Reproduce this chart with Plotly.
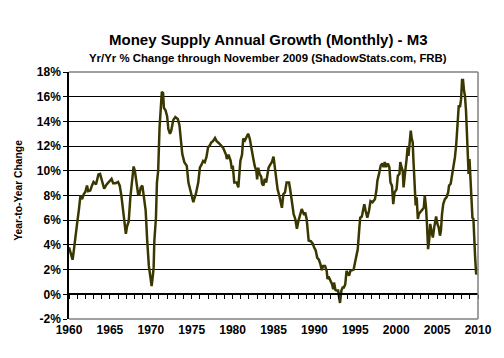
import plotly.graph_objects as go

years = [1960.0, 1960.2, 1960.44, 1960.6, 1960.8, 1961.03, 1961.2, 1961.4, 1961.6, 1961.8,
         1962.0, 1962.2, 1962.35, 1962.6, 1962.8, 1963.0, 1963.3, 1963.6, 1963.8, 1964.1,
         1964.3, 1964.6, 1964.9, 1965.2, 1965.4, 1965.7, 1966.0, 1966.2, 1966.4, 1966.6,
         1966.8, 1966.95, 1967.1, 1967.3, 1967.5, 1967.7, 1967.9, 1968.05, 1968.2, 1968.45,
         1968.6, 1968.77, 1968.97, 1969.17, 1969.37, 1969.56, 1969.76, 1969.96, 1970.1, 1970.25,
         1970.35, 1970.43, 1970.63, 1970.75, 1970.9, 1971.07, 1971.23, 1971.35, 1971.5, 1971.6,
         1971.8, 1972.0, 1972.14, 1972.34, 1972.5, 1972.74, 1973.0, 1973.3, 1973.5, 1973.7,
         1973.85, 1974.1, 1974.4, 1974.6, 1974.9, 1975.2, 1975.3, 1975.5, 1975.8, 1976.0,
         1976.2, 1976.4, 1976.6, 1976.8, 1977.0, 1977.2, 1977.4, 1977.6, 1977.85, 1978.05,
         1978.3, 1978.6, 1978.85, 1979.2, 1979.3, 1979.5, 1979.76, 1979.88, 1980.04, 1980.2,
         1980.5, 1980.7, 1980.83, 1980.95, 1981.15, 1981.3, 1981.5, 1981.7, 1981.9, 1982.1,
         1982.3, 1982.5, 1982.7, 1982.9, 1983.0, 1983.13, 1983.3, 1983.5, 1983.6, 1983.77,
         1983.93, 1984.1, 1984.24, 1984.4, 1984.6, 1984.8, 1985.0, 1985.12, 1985.3, 1985.5,
         1985.7, 1985.87, 1986.03, 1986.2, 1986.4, 1986.6, 1986.9, 1987.06, 1987.26, 1987.46,
         1987.66, 1987.86, 1988.05, 1988.25, 1988.45, 1988.7, 1988.9, 1989.05, 1989.16, 1989.3,
         1989.56, 1989.8, 1989.96, 1990.16, 1990.35, 1990.55, 1990.75, 1990.9, 1991.07, 1991.3,
         1991.5, 1991.6, 1991.8, 1992.0, 1992.17, 1992.3, 1992.4, 1992.57, 1992.7, 1992.9,
         1993.0, 1993.13, 1993.3, 1993.45, 1993.6, 1993.77, 1993.93, 1994.1, 1994.24, 1994.4,
         1994.6, 1994.8, 1994.96, 1995.12, 1995.3, 1995.47, 1995.6, 1995.8, 1996.0, 1996.1,
         1996.27, 1996.47, 1996.67, 1996.86, 1997.1, 1997.4, 1997.58, 1997.7, 1997.9, 1998.1,
         1998.3, 1998.45, 1998.6, 1998.77, 1998.97, 1999.16, 1999.3, 1999.48, 1999.64, 1999.8,
         2000.04, 2000.2, 2000.4, 2000.5, 2000.67, 2000.8, 2000.9, 2001.0, 2001.15, 2001.27,
         2001.4, 2001.5, 2001.66, 2001.78, 2001.9, 2002.02, 2002.1, 2002.18, 2002.26, 2002.38,
         2002.5, 2002.65, 2002.77, 2002.97, 2003.17, 2003.37, 2003.49, 2003.65, 2003.77, 2003.9,
         2004.04, 2004.16, 2004.32, 2004.48, 2004.64, 2004.76, 2004.88, 2005.04, 2005.2, 2005.35,
         2005.47, 2005.6, 2005.75, 2005.95, 2006.15, 2006.35, 2006.46, 2006.66, 2006.86, 2007.02,
         2007.18, 2007.34, 2007.46, 2007.57, 2007.65, 2007.8, 2007.93, 2008.05, 2008.17, 2008.29,
         2008.4, 2008.53, 2008.65, 2008.77, 2008.85, 2008.96, 2009.08, 2009.2, 2009.32, 2009.44,
         2009.52, 2009.64, 2009.76, 2009.83]

m3_growth = [3.8, 3.3, 2.8, 3.6, 4.9, 5.95, 6.8, 8.0, 7.7, 8.1,
             8.3, 8.8, 8.35, 8.4, 8.8, 9.1, 8.9, 9.7, 9.75, 8.95,
             8.55, 8.9, 9.1, 9.35, 9.0, 9.0, 9.1, 8.8, 8.0, 6.8,
             5.7, 4.9, 5.5, 5.9, 7.85, 9.35, 10.35, 10.0, 9.1, 8.1,
             8.1, 8.65, 8.8, 7.85, 6.8, 4.35, 2.3, 1.35, 0.67, 1.5,
             2.2, 4.3, 6.2, 9.05, 10.0, 13.5, 14.9, 16.4, 16.3, 15.1,
             14.9, 14.4, 13.4, 13.0, 13.25, 14.1, 14.35, 14.2, 13.7, 12.3,
             11.35, 10.7, 10.4, 9.05, 8.25, 7.45, 7.7, 8.1, 9.05, 10.25,
             10.5, 10.8, 10.7, 11.1, 11.9, 12.05, 12.3, 12.4, 12.65, 12.4,
             12.25, 12.05, 11.85, 11.3, 10.95, 11.3, 10.8, 10.25, 10.3, 9.05,
             9.05, 8.65, 9.5, 10.8, 11.3, 12.6, 12.45, 12.75, 13.0, 12.6,
             11.65, 11.1, 10.4, 10.0, 9.3, 10.25, 9.75, 9.5, 8.95, 8.8,
             9.35, 9.05, 9.6, 10.25, 10.5, 10.7, 11.15, 10.5, 9.5, 8.5,
             8.0, 7.3, 7.0, 8.1, 8.25, 9.05, 9.05, 8.4, 7.45, 6.5,
             6.1, 5.3, 5.95, 6.5, 6.9, 6.5, 6.55, 6.1, 5.3, 4.35,
             4.3, 4.1, 3.8, 3.55, 2.95, 2.8, 2.4, 1.95, 2.3, 2.3,
             1.9, 1.25, 1.35, 1.1, 0.8, 0.4, 0.95, 0.35, 0.3, 0.3,
             -0.3, -0.7, 0.3, 0.55, 0.55, 0.8, 1.9, 1.6, 1.5, 1.9,
             1.95, 2.0, 2.55, 3.2, 3.65, 5.15, 6.2, 6.3, 7.0, 7.3,
             6.75, 6.2, 6.75, 7.55, 7.45, 7.7, 8.4, 9.2, 9.75, 10.4,
             10.6, 10.3, 10.7, 10.3, 10.6, 10.3, 9.05, 8.8, 7.3, 8.25,
             8.5, 9.6, 9.75, 10.7, 10.25, 10.0, 8.65, 9.6, 10.25, 10.95,
             11.9, 11.2, 12.3, 13.25, 12.6, 12.3, 10.95, 9.5, 8.0, 7.2,
             7.85, 6.1, 6.5, 6.65, 6.8, 7.0, 8.0, 7.0, 5.55, 3.65,
             4.45, 5.7, 5.1, 4.6, 5.4, 5.8, 6.3, 5.7, 5.4, 4.75,
             5.15, 6.5, 7.3, 7.7, 7.85, 8.25, 8.8, 8.95, 9.75, 10.25,
             11.1, 12.15, 13.25, 14.0, 15.3, 15.15, 15.8, 17.35, 17.35, 16.5,
             16.1, 14.9, 13.0, 11.5, 9.75, 10.95, 8.95, 7.0, 6.2, 6.1,
             4.05, 3.1, 1.75, 1.6]

x_tick_vals = [1960, 1965, 1970, 1975, 1980, 1985, 1990, 1995, 2000, 2005, 2010]
x_tick_labels = ["1960", "1965", "1970", "1975", "1980", "1985", "1990", "1995", "2000", "2005", "2010"]
y_tick_vals = [-2, 0, 2, 4, 6, 8, 10, 12, 14, 16, 18]
y_tick_labels = ["-2%", "0%", "2%", "4%", "6%", "8%", "10%", "12%", "14%", "16%", "18%"]

FONT = "Arial, 'Liberation Sans', sans-serif"

fig = go.Figure()
fig.add_trace(go.Scatter(x=years, y=m3_growth, mode="lines",
                         line=dict(color="#3a3800", width=2.5), showlegend=False))
# invisible trace on the zero-line axis to activate it
fig.add_trace(go.Scatter(x=[1960, 2010], y=[0, 0], xaxis="x2", mode="lines",
                         line=dict(width=0), hoverinfo="skip", showlegend=False))

fig.update_layout(
    width=504, height=358,
    margin=dict(l=69, r=15, t=72, b=39),
    paper_bgcolor="white", plot_bgcolor="white",
    xaxis=dict(range=[1960, 2010], tickvals=x_tick_vals, ticktext=x_tick_labels,
               showgrid=False, zeroline=False, showline=False, ticks="",
               tickfont=dict(family=FONT, size=12, color="black", weight="bold"),
               ticklabelstandoff=2),
    xaxis2=dict(range=[1960, 2010], overlaying="x", anchor="free", position=0.1,
                side="bottom", showline=True, linecolor="black", linewidth=1.5,
                ticks="outside", tickcolor="black", ticklen=4, tickwidth=1, dtick=1,
                tick0=1960, showticklabels=False, showgrid=False, zeroline=False),
    yaxis=dict(range=[-2, 18], tickvals=y_tick_vals, ticktext=y_tick_labels,
               showgrid=True, gridcolor="black", gridwidth=1, zeroline=False,
               showline=True, linecolor="black", linewidth=1.5, ticks="outside",
               ticklen=4, tickcolor="black",
               tickfont=dict(family=FONT, size=12, color="black", weight="bold")),
    annotations=[
        dict(text="Money Supply Annual Growth (Monthly) - M3", xref="paper", yref="paper",
             x=0.487, y=1.13, xanchor="center", yanchor="middle", showarrow=False,
             font=dict(family=FONT, size=15, color="black", weight="bold")),
        dict(text="Yr/Yr % Change through November 2009 (ShadowStats.com, FRB)",
             xref="paper", yref="paper", x=0.487, y=1.057, xanchor="center",
             yanchor="middle", showarrow=False,
             font=dict(family=FONT, size=11.4, color="black", weight="bold")),
        dict(text="Year-to-Year Change", xref="paper", yref="paper", x=-0.124, y=0.52,
             xanchor="center", yanchor="middle", textangle=-90, showarrow=False,
             font=dict(family=FONT, size=10.3, color="black", weight="bold")),
    ],
    shapes=[
        dict(type="line", xref="paper", yref="paper", x0=0, x1=1, y0=1, y1=1,
             line=dict(color="#808080", width=1.5), layer="above"),
        dict(type="line", xref="paper", yref="paper", x0=0, x1=1, y0=0, y1=0,
             line=dict(color="#808080", width=1.5), layer="above"),
        dict(type="line", xref="paper", yref="paper", x0=1, x1=1, y0=0, y1=1,
             line=dict(color="#808080", width=1.5), layer="above"),
    ],
)

fig.write_html("out.html", config={"displayModeBar": False},
               post_script="document.body.style.margin='0';")
